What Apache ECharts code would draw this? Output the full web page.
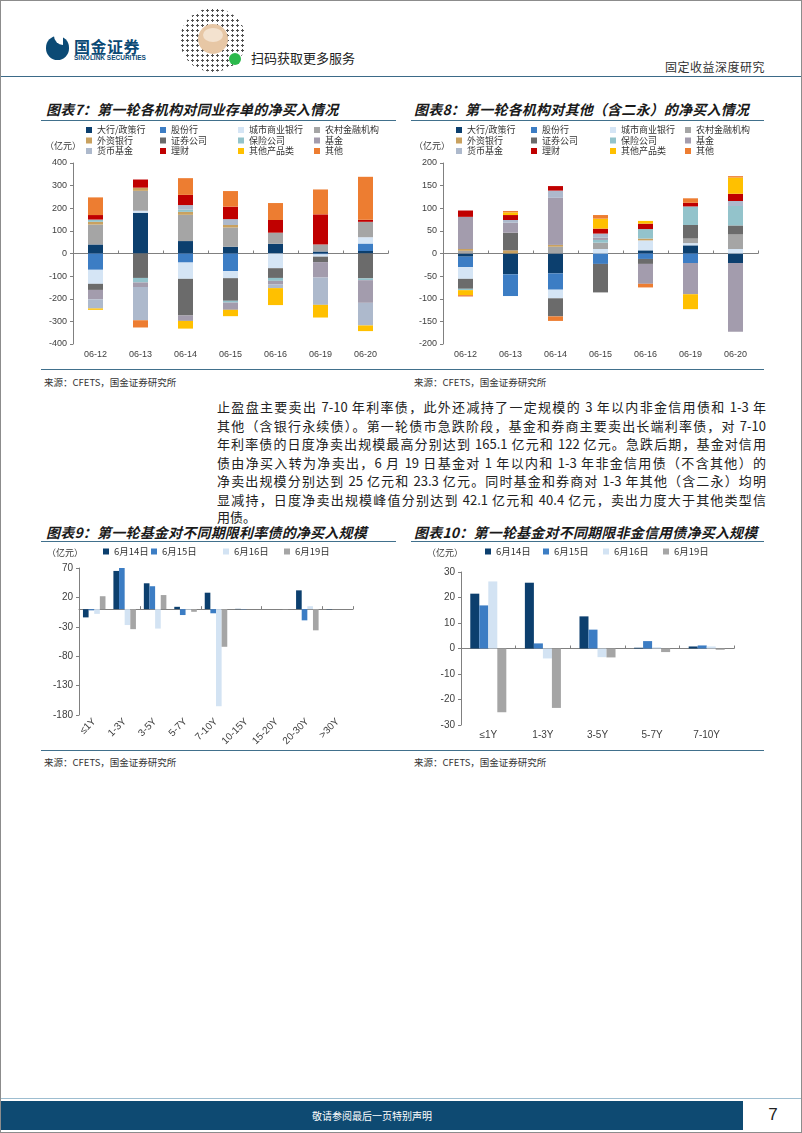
<!DOCTYPE html>
<html>
<head>
<meta charset="utf-8">
<script src="https://cdn.jsdelivr.net/npm/echarts@6.0.0/dist/echarts.min.js"></script>
<style>
  html, body { margin: 0; padding: 0; background: #fff; }
  #page { position: relative; width: 802px; height: 1133px; overflow: hidden; background: #fff;
          box-sizing: border-box; border: 1px solid #8c8c8c; font-family: "Noto Sans CJK SC", sans-serif; }
  .abs { position: absolute; }
  .title { position: absolute; font-size: 14px; font-weight: 700; font-style: italic; color: #1a1a1a;
           line-height: 16px; white-space: nowrap; letter-spacing: 0.2px; }
  .uline { position: absolute; height: 0; border-top: 1.5px solid #41708c; }
  .src { position: absolute; font-size: 9.5px; color: #333; line-height: 12px; white-space: nowrap; }
  .para { position: absolute; left: 216px; width: 549px; font-size: 13px; line-height: 18px; height: 18px;
          color: #222; white-space: nowrap; text-align: justify; text-align-last: justify; }
  .chart { position: absolute; }
</style>
</head>
<body>
<div id="page">
  <!-- header -->
  <div class="abs" style="left:45px;top:35px;width:23px;height:24px;border-radius:12px;background:#0b4a75;"></div>
  <div class="abs" style="left:53px;top:35px;width:9px;height:9px;border-radius:0 0 0 9px;background:#fff;"></div>
  <div class="abs" style="left:73px;top:36px;font-size:16px;font-weight:700;color:#0b4a75;line-height:18px;letter-spacing:0.5px;">国金证券</div>
  <div class="abs" style="left:73px;top:53px;font-size:6.5px;font-weight:700;color:#0b4a75;line-height:8px;font-family:'Liberation Sans',sans-serif;">SINOLINK SECURITIES</div>
  <div class="abs" style="left:179px;top:7px;width:66px;height:64px;border-radius:50%;
       background: radial-gradient(circle, #333 30%, transparent 36%) 0 0/5px 5px;opacity:0.85;"></div>
  <div class="abs" style="left:197px;top:23px;width:30px;height:30px;border-radius:50%;background:#e7c7a5;"></div>
  <div class="abs" style="left:202px;top:27px;width:20px;height:14px;border-radius:50%;background:#f3e2cf;"></div>
  <div class="abs" style="left:228px;top:52px;width:12px;height:12px;border-radius:50%;background:#2cb94c;"></div>
  <div class="abs" style="left:250px;top:48px;font-size:13px;color:#222;line-height:17px;">扫码获取更多服务</div>
  <div class="abs" style="left:664px;top:58px;font-size:12px;color:#333;line-height:16px;letter-spacing:0.5px;">固定收益深度研究</div>
  <div class="abs" style="left:0;top:75px;width:802px;border-top:1.5px solid #3b6a88;"></div>

  <!-- chart 7/8 titles -->
  <div class="title" style="left:45px;top:100px;">图表7：第一轮各机构对同业存单的净买入情况</div>
  <div class="uline" style="left:40px;top:119px;width:355px;"></div>
  <div class="title" style="left:413px;top:100px;">图表8：第一轮各机构对其他（含二永）的净买入情况</div>
  <div class="uline" style="left:410px;top:119px;width:353px;"></div>

  <div id="c7" class="chart" style="left:40px;top:122px;width:360px;height:245px;"></div>
  <div id="c8" class="chart" style="left:410px;top:122px;width:360px;height:245px;"></div>

  <div class="uline" style="left:40px;top:368px;width:723px;"></div>
  <div class="src" style="left:43px;top:375px;">来源：CFETS，国金证券研究所</div>
  <div class="src" style="left:413px;top:375px;">来源：CFETS，国金证券研究所</div>

  <!-- paragraph -->
  <div class="para" style="top:397px;">止盈盘主要卖出 7-10 年利率债，此外还减持了一定规模的 3 年以内非金信用债和 1-3 年</div>
  <div class="para" style="top:415.5px;">其他（含银行永续债）。第一轮债市急跌阶段，基金和券商主要卖出长端利率债，对 7-10</div>
  <div class="para" style="top:434px;">年利率债的日度净卖出规模最高分别达到 165.1 亿元和 122 亿元。急跌后期，基金对信用</div>
  <div class="para" style="top:452.5px;">债由净买入转为净卖出，6 月 19 日基金对 1 年以内和 1-3 年非金信用债（不含其他）的</div>
  <div class="para" style="top:471px;">净卖出规模分别达到 25 亿元和 23.3 亿元。同时基金和券商对 1-3 年其他（含二永）均明</div>
  <div class="para" style="top:489.5px;">显减持，日度净卖出规模峰值分别达到 42.1 亿元和 40.4 亿元，卖出力度大于其他类型信</div>
  <div class="para" style="top:507px;text-align-last:left;">用债。</div>

  <!-- chart 9/10 titles -->
  <div class="title" style="left:45px;top:523px;">图表9：第一轮基金对不同期限利率债的净买入规模</div>
  <div class="uline" style="left:40px;top:540px;width:355px;"></div>
  <div class="title" style="left:413px;top:523px;">图表10：第一轮基金对不同期限非金信用债净买入规模</div>
  <div class="uline" style="left:410px;top:540px;width:353px;"></div>

  <div id="c9" class="chart" style="left:40px;top:542px;width:360px;height:205px;"></div>
  <div id="c10" class="chart" style="left:410px;top:542px;width:360px;height:205px;"></div>

  <div class="uline" style="left:40px;top:749px;width:723px;"></div>
  <div class="src" style="left:43px;top:755px;">来源：CFETS，国金证券研究所</div>
  <div class="src" style="left:413px;top:755px;">来源：CFETS，国金证券研究所</div>

  <!-- footer -->
  <div class="abs" style="left:0;top:1097px;width:802px;border-top:1px solid #9dbdd0;"></div>
  <div class="abs" style="left:0;top:1100px;width:742px;height:29px;background:#0e4a72;color:#fff;font-size:10px;line-height:29px;text-align:center;">敬请参阅最后一页特别声明</div>
  <div class="abs" style="left:742px;top:1103px;width:60px;text-align:center;font-size:17px;line-height:22px;color:#222;font-family:'Liberation Sans',sans-serif;">7</div>
</div>

<script>
// ---------------- 图表7 / 图表8 common ----------------
const dates = ['06-12', '06-13', '06-14', '06-15', '06-16', '06-19', '06-20'];
const institutions = ['大行/政策行', '股份行', '城市商业银行', '农村金融机构', '外资银行', '证券公司',
                      '保险公司', '基金', '货币基金', '理财', '其他产品类', '其他'];

// 图表7：同业存单净买入（亿元）
const cdBigBanks      = [40, 180, 55, 30, 43, 9, 11];
const cdJointStock    = [-72, 0, -40, -78, 0, -4, 33];
const cdCityBanks     = [-62, 9, -72, -31, -65, -10, 28];
const cdRural         = [88, 88, 116, 85, 49, 31, 68];
const cdForeign       = [12, 14, 13, 11, 0, 0, 0];
const cdSecurities    = [-27, -108, -162, -100, -43, -24, -110];
const cdInsurance     = [10, -20, 10, -8, -13, 0, -8];
const cdFunds         = [-42, -20, -24, -32, -16, -68, -100];
const cdMoneyFunds    = [-40, -147, 20, 26, -16, -121, -100];
const cdWealth        = [20, 36, 45, 55, 56, 133, 9];
const cdOtherProducts = [-6, 0, -34, -28, -75, -56, -25];
const cdOthers        = [78, -32, 74, 69, 75, 110, 190];

// 图表8：其他（含二永）净买入（亿元）
const otBigBanks      = [-7, -46, -44, 0, 7, 18, -21];
const otJointStock    = [-23, -48, -36, -23, -12, -21, 0];
const otCityBanks     = [-26, 0, -19, 10, 22, 5, 10];
const otRural         = [6, 0, 15, 14, 0, 10, 32];
const otForeign       = [4, 7, 4, 0, 4, 0, 0];
const otSecurities    = [-22, 39, -40, -63, -11, 30, 20];
const otInsurance     = [-3, 0, 0, 6, 21, 41, 43];
const otFunds         = [71, 22, 104, 5, -44, -69, -152];
const otMoneyFunds    = [0, 6, 16, 9, 0, 0, 11];
const otWealth        = [14, 11, 10, 11, 12, 8, 16];
const otOtherProducts = [-11, 6, 0, 22, 6, -33, 36];
const otOthers        = [-3, 3, -10, 8, -8, 10, 3];

// 图表9：基金对不同期限利率债净买入（亿元）
const rateTenors = ['≤1Y', '1-3Y', '3-5Y', '5-7Y', '7-10Y', '10-15Y', '15-20Y', '20-30Y', '>30Y'];
const rateJun14 = [-14, 65, 44, 4, 28, 0.5, 0, 32, -0.5];
const rateJun15 = [-2, 70, 39, -10, -7, -0.5, 0, -19, 0];
const rateJun16 = [-8, -27, -33, -1, -165.1, 0, 0, 5, 0];
const rateJun19 = [22, -34, 24, -4.5, -64, 0, -0.5, -36, 0];

// 图表10：基金对不同期限非金信用债净买入（亿元）
const creditTenors = ['≤1Y', '1-3Y', '3-5Y', '5-7Y', '7-10Y'];
const creditJun14 = [21.5, 25.8, 12.6, 0.3, 0.8];
const creditJun15 = [16.9, 2, 7.4, 2.9, 1.2];
const creditJun16 = [26.3, -3.9, -3.4, 0.5, 0.8];
const creditJun19 = [-25, -23.3, -3.5, -1.4, -0.5];

const dayNames = ['6月14日', '6月15日', '6月16日', '6月19日'];

// ---------------- styles ----------------
const CJK = '"Noto Sans CJK SC", sans-serif';
const LAT = '"Liberation Sans", Arial, sans-serif';
const instColors = ['#0c3f6e', '#3c7dc4', '#d5e5f5', '#a5a5a5', '#c9a15f', '#6b6b6b',
                    '#93c3cb', '#a39cad', '#adb9cc', '#c00000', '#ffc000', '#ed7d31'];
const dayColors = ['#0c3f6e', '#3c7dc4', '#d3e3f3', '#a5a5a5'];
const axisGray = '#808080';

function valueAxis(min, max, interval, fontSize) {
  return {
    type: 'value', min: min, max: max, interval: interval,
    axisLine: { show: true, lineStyle: { color: axisGray, width: 1 } },
    axisTick: { show: true, length: 3, lineStyle: { color: axisGray } },
    splitLine: { show: false },
    axisLabel: { color: '#404040', fontSize: fontSize, fontFamily: LAT, margin: 6 }
  };
}

function xAxes(cats, fontSize, labelMargin, rotate) {
  return [
    { type: 'category', data: cats, position: 'bottom',
      axisLine: { show: false, onZero: false }, axisTick: { show: false },
      axisLabel: { color: '#404040', fontSize: fontSize, fontFamily: LAT, margin: labelMargin,
                   interval: 0, rotate: rotate || 0 } },
    { type: 'category', data: cats, position: 'bottom',
      axisLine: { show: true, onZero: true, lineStyle: { color: axisGray, width: 1 } },
      axisTick: { show: true, inside: true, length: 3, lineStyle: { color: axisGray } },
      axisLabel: { show: false } }
  ];
}

function unitLabel(x, y) {
  return { type: 'text', left: x, top: y,
           style: { text: '（亿元）', fill: '#333', font: '9px ' + CJK } };
}

function stackedChart(domId, seriesData, min, max, interval, colX, unitPos) {
  const chart = echarts.init(document.getElementById(domId), null, { renderer: 'canvas' });
  const cols = [[0, 4, 8], [1, 5, 9], [2, 6, 10], [3, 7, 11]];
  chart.setOption({
    animation: false,
    grid: { left: 32, top: 40, width: 315, height: 181, outerBoundsMode: 'none', containLabel: false },
    legend: cols.map((idx, i) => ({
      orient: 'vertical', left: colX[i], top: 2, padding: 0, itemGap: 0.5,
      itemWidth: 6, itemHeight: 6, icon: 'rect', selectedMode: false,
      data: idx.map(k => institutions[k]),
      textStyle: { fontSize: 9, lineHeight: 10, color: '#333', fontFamily: CJK }
    })),
    graphic: [unitLabel(unitPos[0], unitPos[1])],
    xAxis: xAxes(dates, 9, 6),
    yAxis: valueAxis(min, max, interval, 9),
    series: seriesData.map((d, k) => ({
      name: institutions[k], type: 'bar', stack: 'total', xAxisIndex: 0,
      data: d, barWidth: 15, itemStyle: { color: instColors[k] }
    }))
  });
}

stackedChart('c7',
  [cdBigBanks, cdJointStock, cdCityBanks, cdRural, cdForeign, cdSecurities,
   cdInsurance, cdFunds, cdMoneyFunds, cdWealth, cdOtherProducts, cdOthers],
  -400, 400, 100, [45, 119, 197, 273], [4, 18]);

stackedChart('c8',
  [otBigBanks, otJointStock, otCityBanks, otRural, otForeign, otSecurities,
   otInsurance, otFunds, otMoneyFunds, otWealth, otOtherProducts, otOthers],
  -200, 200, 50, [45, 120, 199, 274], [3, 18]);

function groupedChart(domId, cats, seriesData, min, max, interval, grid, legX, unitPos, gapPct, labelMargin, rotate) {
  const chart = echarts.init(document.getElementById(domId), null, { renderer: 'canvas' });
  chart.setOption({
    animation: false,
    grid: Object.assign({ outerBoundsMode: 'none', containLabel: false }, grid),
    legend: dayNames.map((n, i) => ({
      left: legX[i], top: 3, padding: 0, itemWidth: 6, itemHeight: 6, icon: 'rect',
      selectedMode: false, data: [n],
      textStyle: { fontSize: 9.5, lineHeight: 11, color: '#333', fontFamily: CJK }
    })),
    graphic: [unitLabel(unitPos[0], unitPos[1])],
    xAxis: xAxes(cats, 10, labelMargin, rotate),
    yAxis: valueAxis(min, max, interval, 10),
    series: seriesData.map((d, k) => ({
      name: dayNames[k], type: 'bar', xAxisIndex: 0, data: d,
      barGap: '0%', barCategoryGap: gapPct, itemStyle: { color: dayColors[k] }
    }))
  });
}

groupedChart('c9', rateTenors, [rateJun14, rateJun15, rateJun16, rateJun19],
  -180, 70, 50, { left: 38, top: 25, width: 274, height: 147 },
  [62, 110, 182, 243], [6, 5], '26%', 5, 45);

groupedChart('c10', creditTenors, [creditJun14, creditJun15, creditJun16, creditJun19],
  -30, 30, 10, { left: 50, top: 29, width: 273, height: 153 },
  [74, 132, 192, 252], [16, 5], '34%', 5, 0);
</script>
</body>
</html>
